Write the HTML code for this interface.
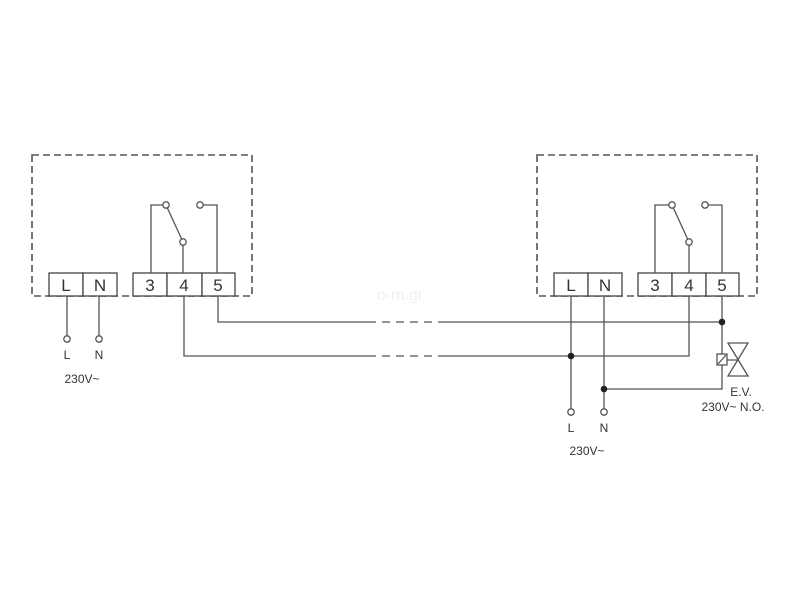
<!DOCTYPE html>
<html><head><style>body{margin:0;background:#fff}svg{display:block}</style></head><body>
<svg width="800" height="600" xmlns="http://www.w3.org/2000/svg" font-family="Liberation Sans, sans-serif">
<rect width="800" height="600" fill="#fff"/>
<g fill="none" stroke="#555" stroke-width="1.6" stroke-dasharray="7,4">
<rect x="32" y="155" width="220" height="141"/>
<rect x="537" y="155" width="220" height="141"/>
</g>
<g fill="#fff" stroke="#444" stroke-width="1.3">
<rect x="49" y="273" width="34" height="23"/><rect x="83" y="273" width="34" height="23"/>
<rect x="133" y="273" width="34" height="23"/><rect x="167" y="273" width="35" height="23"/><rect x="202" y="273" width="33" height="23"/>
<rect x="554" y="273" width="34" height="23"/><rect x="588" y="273" width="34" height="23"/>
<rect x="638" y="273" width="34" height="23"/><rect x="672" y="273" width="34" height="23"/><rect x="706" y="273" width="33" height="23"/>
</g>
<g font-size="17" fill="#333" text-anchor="middle">
<text x="66" y="291">L</text><text x="100" y="291">N</text>
<text x="150" y="291">3</text><text x="184" y="291">4</text><text x="218" y="291">5</text>
<text x="571" y="291">L</text><text x="605" y="291">N</text>
<text x="655" y="291">3</text><text x="689" y="291">4</text><text x="722" y="291">5</text>
</g>
<g fill="none" stroke="#555" stroke-width="1.3">
<path d="M151 273V205H163M183 273V245M166 205L183 242M203 205H217V273"/>
<path d="M655 273V205H669M689 273V245M672 205L689 242M708 205H722V273"/>
<path d="M67 296V336M99 296V336"/>
<path d="M218 296V322H368M440 322H722M184 296V356H368M440 356H689V296"/>
<path d="M368 322H440M368 356H440" stroke-dasharray="8,6"/>
<path d="M571 296V409M604 296V409M722 296V354M722 365V389H604"/>
<rect x="717" y="354" width="10" height="11"/>
<path d="M718 364L726 355"/>
<path d="M727 360H738M728 343L748 376H728L748 343Z"/>
</g>
<g fill="#fff" stroke="#555" stroke-width="1.3">
<circle cx="166" cy="205" r="3.2"/><circle cx="183" cy="242" r="3.2"/><circle cx="200" cy="205" r="3.2"/>
<circle cx="672" cy="205" r="3.2"/><circle cx="689" cy="242" r="3.2"/><circle cx="705" cy="205" r="3.2"/>
<circle cx="67" cy="339" r="3.2"/><circle cx="99" cy="339" r="3.2"/>
<circle cx="571" cy="412" r="3.2"/><circle cx="604" cy="412" r="3.2"/>
</g>
<g fill="#222"><circle cx="722" cy="322" r="3.3"/><circle cx="571" cy="356" r="3.3"/><circle cx="604" cy="389" r="3.3"/></g>
<g font-size="12" fill="#333" text-anchor="middle">
<text x="67" y="359">L</text><text x="99" y="359">N</text><text x="82" y="383">230V~</text>
<text x="571" y="432">L</text><text x="604" y="432">N</text><text x="587" y="455">230V~</text>
<text x="741" y="396">E.V.</text><text x="733" y="411">230V~ N.O.</text>
</g>
<text x="400" y="300" font-size="16" fill="#f0f0f0" text-anchor="middle">o-m.gr</text>
</svg>
</body></html>
